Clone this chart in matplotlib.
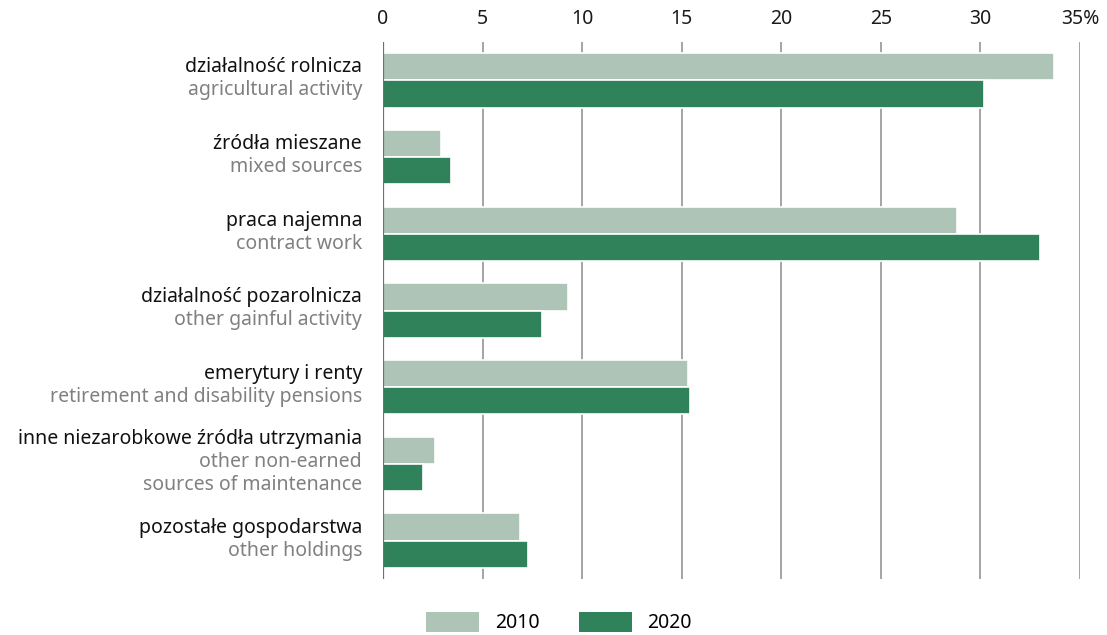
import matplotlib
matplotlib.use("Agg")
import matplotlib.pyplot as plt
from matplotlib.patches import Patch
from matplotlib.transforms import offset_copy
import numpy as np

plt.rcParams['font.family'] = ['Noto Sans', 'DejaVu Sans']

labels_pl = [
    "działalność rolnicza",
    "źródła mieszane",
    "praca najemna",
    "działalność pozarolnicza",
    "emerytury i renty",
    "inne niezarobkowe źródła utrzymania",
    "pozostałe gospodarstwa",
]
labels_en = [
    "agricultural activity",
    "mixed sources",
    "contract work",
    "other gainful activity",
    "retirement and disability pensions",
    "other non-earned\nsources of maintenance",
    "other holdings",
]
values_2010 = [33.7, 2.9, 28.8, 9.3, 15.3, 2.6, 6.9]
values_2020 = [30.2, 3.4, 33.0, 8.0, 15.4, 2.0, 7.3]
xticks = [0, 5, 10, 15, 20, 25, 30, 35]
xtick_labels = ["0", "5", "10", "15", "20", "25", "30", "35%"]

c2010 = "#adc4b7"
c2020 = "#2f825a"
fs = 14

fig = plt.figure(figsize=(11.07, 6.35), dpi=100)
ax = fig.add_axes([383 / 1107, 1 - 579 / 635, (1080 - 383) / 1107, (579 - 42) / 635])

y = np.arange(len(labels_pl))
h = 0.355
ax.barh(y - h / 2, values_2010, height=h, color=c2010, edgecolor="white", linewidth=1.2, zorder=3)
ax.barh(y + h / 2, values_2020, height=h, color=c2020, edgecolor="white", linewidth=1.2, zorder=3)

ax.set_xlim(0, 35)
ax.set_ylim(len(labels_pl) - 0.5, -0.5)

for xv in xticks[1:]:
    ax.axvline(xv, color="#8c8c8c", lw=1.1, zorder=1)
ax.axvline(0, color="#6f6f6f", lw=1.6, zorder=4)

for s in ax.spines.values():
    s.set_visible(False)
ax.xaxis.tick_top()
ax.set_xticks(xticks)
ax.set_xticklabels(xtick_labels, fontsize=fs, color="#1a1a1a")
ax.tick_params(axis="x", length=0, pad=9)
ax.set_yticks([])

# two-language category labels, stacked line by line
line_h = 23 / (579 - 42) * 7  # line spacing in data units
tr = offset_copy(ax.transData, fig=fig, x=-21, y=0, units="dots")
for i, (pl, en) in enumerate(zip(labels_pl, labels_en)):
    lines = [(pl, "#111111")] + [(t, "#808080") for t in en.split("\n")]
    n = len(lines)
    for k, (txt, col) in enumerate(lines):
        yy = i + (k - (n - 1) / 2) * line_h - 0.02
        ax.text(0, yy, txt, transform=tr, ha="right", va="center",
                fontsize=fs, color=col)

handles = [Patch(facecolor=c2010, label="2010"), Patch(facecolor=c2020, label="2020")]
fig.legend(handles=handles, loc="lower center", bbox_to_anchor=(0.505, -0.025), ncol=2,
           frameon=False, fontsize=fs, handlelength=2.75, handleheight=1.25,
           columnspacing=2.0, handletextpad=0.8)

fig.savefig("out.png", dpi=100)
